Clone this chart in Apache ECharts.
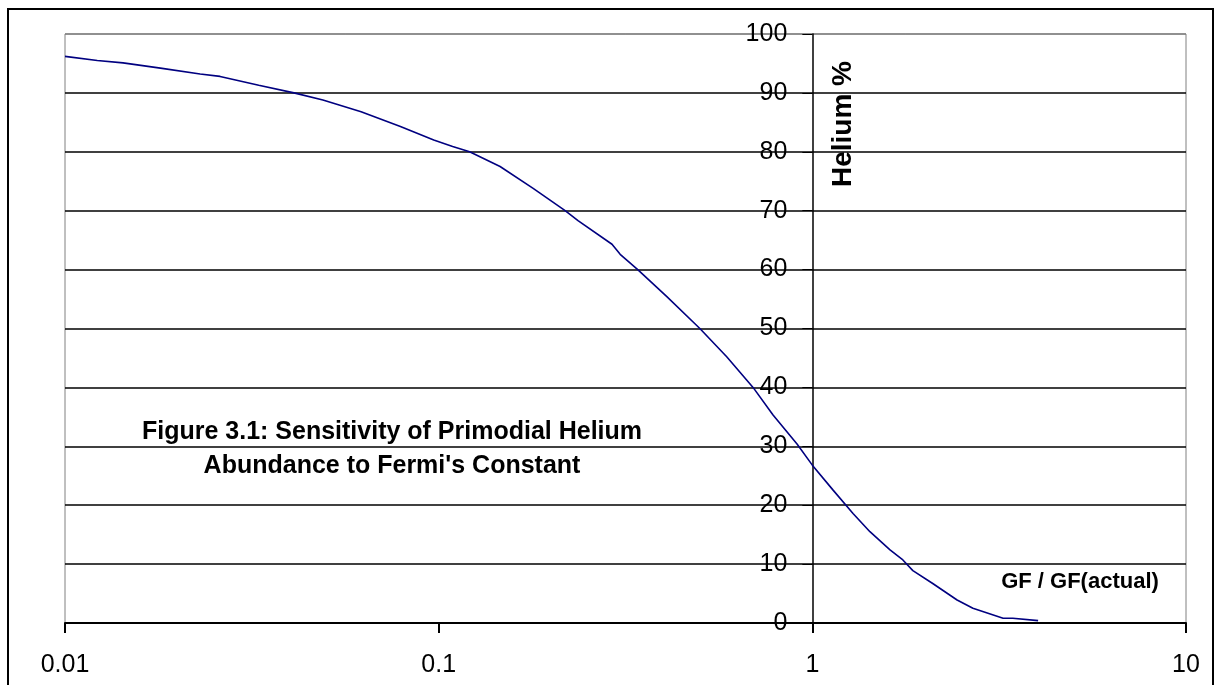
<!DOCTYPE html>
<html>
<head>
<meta charset="utf-8">
<script src="https://cdn.jsdelivr.net/npm/echarts@6/dist/echarts.min.js"></script>
<style>
html,body{margin:0;padding:0;background:#fff;}
#chart{width:1218px;height:685px;}
</style>
</head>
<body>
<div id="chart"></div>
<script>
// GF / GF(actual) ratio values (x) and Helium % (y)
const gfRatio = [0.01, 0.0122, 0.0143, 0.018, 0.023, 0.026, 0.033, 0.041, 0.049, 0.062, 0.079, 0.097, 0.109, 0.121, 0.146, 0.179, 0.218, 0.236, 0.291, 0.306, 0.341, 0.408, 0.5, 0.59, 0.694, 0.785, 0.91, 1.0, 1.135, 1.285, 1.426, 1.614, 1.747, 1.858, 2.1, 2.44, 2.69, 3.24, 3.44, 4.02];
const heliumPct = [96.2, 95.5, 95.1, 94.2, 93.2, 92.8, 91.3, 90.0, 88.8, 86.8, 84.3, 82.0, 80.9, 80.0, 77.5, 73.8, 70.0, 68.3, 64.3, 62.6, 60.0, 55.4, 50.0, 45.2, 40.0, 35.3, 30.4, 26.8, 22.6, 18.6, 15.5, 12.4, 10.7, 8.9, 6.7, 3.9, 2.5, 0.8, 0.8, 0.4];
const xTicks = [0.01, 0.1, 1, 10];
const yTicks = [0, 10, 20, 30, 40, 50, 60, 70, 80, 90, 100];
const captionLines = ["Figure 3.1: Sensitivity of Primodial Helium", "Abundance to Fermi's Constant"];
const yAxisTitle = "Helium %";
const xAxisTitle = "GF / GF(actual)";

const FONT = "'Liberation Sans', Arial, sans-serif";
const chart = echarts.init(document.getElementById('chart'));
const seriesData = gfRatio.map((x, i) => [x, heliumPct[i]]);

const gridLeft = 65, gridTop = 34, gridW = 1121, gridH = 589;
const yAxisAtX = gridLeft + gridW * (Math.log10(1) - Math.log10(xTicks[0])) / (Math.log10(xTicks[xTicks.length-1]) - Math.log10(xTicks[0]));

const splitColors = yTicks.map((v, i) => i === yTicks.length - 1 ? '#808080' : '#000000');

chart.setOption({
  animation: false,
  backgroundColor: '#ffffff',
  grid: {
    left: gridLeft, top: gridTop, width: gridW, height: gridH,
    show: true, borderColor: '#808080', borderWidth: 1, backgroundColor: 'transparent'
  },
  xAxis: {
    type: 'log', logBase: 10, min: xTicks[0], max: xTicks[xTicks.length-1],
    axisLine: { show: true, lineStyle: { color: '#000', width: 2 } },
    axisTick: { show: true, length: 10, inside: false, lineStyle: { color: '#000', width: 2 } },
    axisLabel: { show: true, margin: 30, fontSize: 25, color: '#000', fontFamily: FONT,
      formatter: v => String(+(+v).toPrecision(3)) },
    splitLine: { show: false },
    minorTick: { show: false }
  },
  yAxis: {
    type: 'value', min: 0, max: 100, interval: 10,
    position: 'left', offset: -(yAxisAtX - gridLeft),
    axisLine: { show: true, onZero: false, lineStyle: { color: '#000', width: 1.5 } },
    axisTick: { show: true, length: 10, inside: false, lineStyle: { color: '#000', width: 1 } },
    axisLabel: { show: true, margin: 25, fontSize: 25, color: '#000', fontFamily: FONT },
    splitLine: { show: true, lineStyle: { color: splitColors, width: 1.5 } }
  },
  series: [{
    type: 'line',
    data: seriesData,
    showSymbol: false,
    symbol: 'none',
    smooth: false,
    lineStyle: { color: '#000080', width: 1.6 },
    z: 5
  }],
  graphic: [
    { type: 'rect', z: 100, silent: true,
      shape: { x: 8, y: 9, width: 1205, height: 720 },
      style: { fill: 'none', stroke: '#000', lineWidth: 2 } },
    { type: 'text', z: 100, x: 392, y: 415, silent: true,
      style: { text: captionLines.join('\n'), font: 'bold 25px ' + FONT, fill: '#000',
        textAlign: 'center', textVerticalAlign: 'top', lineHeight: 34 } },
    { type: 'text', z: 100, x: 1080, y: 582, silent: true,
      style: { text: xAxisTitle, font: 'bold 22px ' + FONT, fill: '#000',
        textAlign: 'center', textVerticalAlign: 'middle' } },
    { type: 'text', z: 100, x: 843, y: 124, rotation: Math.PI / 2, silent: true,
      style: { text: yAxisTitle, font: 'bold 28px ' + FONT, fill: '#000',
        textAlign: 'center', textVerticalAlign: 'middle' } }
  ]
});
</script>
</body>
</html>
